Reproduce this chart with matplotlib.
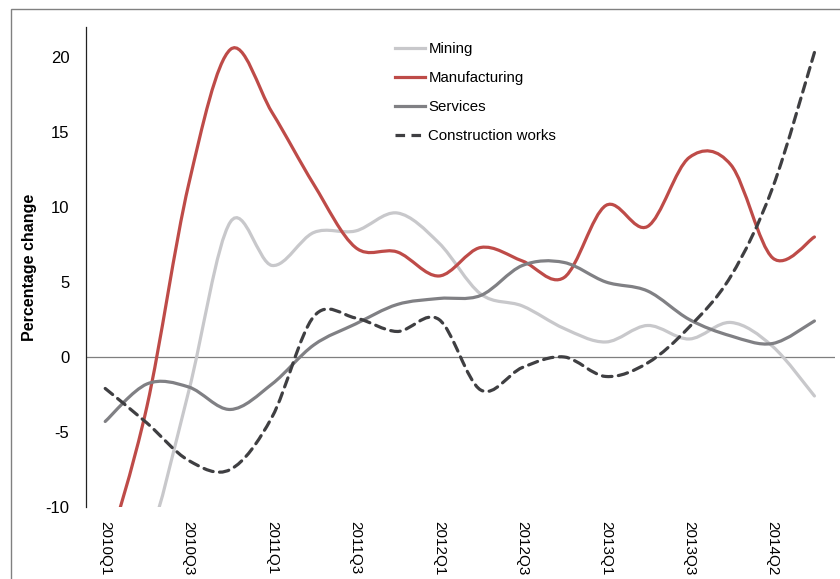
import numpy as np
import matplotlib.pyplot as plt
from matplotlib.path import Path
from matplotlib.patches import PathPatch, Rectangle
from matplotlib.lines import Line2D

plt.rcParams['font.family'] = ['Liberation Sans', 'DejaVu Sans']
plt.rcParams['axes.unicode_minus'] = False

# -------------------- data --------------------
quarters = list(range(18))
tick_pos = [0, 2, 4, 6, 8, 10, 12, 14, 16]
tick_labels = ["2010Q1", "2010Q3", "2011Q1", "2011Q3", "2012Q1",
               "2012Q3", "2013Q1", "2013Q3", "2014Q2"]

mining = [-16, -12.5, -2.3, 9.0, 6.1, 8.3, 8.4, 9.6, 7.6, 4.2,
          3.4, 1.9, 1.0, 2.1, 1.2, 2.3, 0.7, -2.6]
manufacturing = [-13.5, -3.3, 11.5, 20.5, 16.3, 11.5, 7.3, 7.0, 5.4, 7.3,
                 6.4, 5.3, 10.1, 8.7, 13.3, 12.8, 6.6, 8.0]
services = [-4.3, -1.8, -2.0, -3.5, -1.8, 0.8, 2.2, 3.5, 3.9, 4.1,
            6.1, 6.3, 5.0, 4.4, 2.5, 1.4, 0.9, 2.4]
construction = [-2.1, -4.4, -6.9, -7.5, -4.0, 2.7, 2.6, 1.7, 2.5, -2.2,
                -0.7, 0.0, -1.3, -0.4, 2.0, 5.4, 11.3, 20.3]

series = [
    ("Mining", mining, "#c8c8cb", "-"),
    ("Manufacturing", manufacturing, "#be4b48", "-"),
    ("Services", services, "#808084", "-"),
    ("Construction works", construction, "#3f3f42", (0, (3, 2))),
]


# smooth line like a spreadsheet chart: cubic bezier through the points
def smooth_path(x, y):
    p = np.column_stack([x, y]).astype(float)
    verts = [p[0]]
    codes = [Path.MOVETO]
    n = len(p)
    for i in range(n - 1):
        p0 = p[i - 1] if i > 0 else p[i]
        p3 = p[i + 2] if i + 2 < n else p[i + 1]
        c1 = p[i] + (p[i + 1] - p0) / 6.0
        c2 = p[i + 1] - (p3 - p[i]) / 6.0
        verts += [c1, c2, p[i + 1]]
        codes += [Path.CURVE4] * 3
    return Path(verts, codes)


fig = plt.figure(figsize=(8.4, 5.79), dpi=100)
ax = fig.add_axes([0.1024, 0.1244, 0.892, 0.829])

ax.axhline(0, color="#7f7f7f", lw=0.9, zorder=1)

handles = []
for name, vals, col, ls in series:
    patch = PathPatch(smooth_path(quarters, vals), fill=False, edgecolor=col,
                      lw=2.3, linestyle=ls, capstyle="round", zorder=3)
    ax.add_patch(patch)
    handles.append(Line2D([], [], color=col, lw=2.3, linestyle=ls, label=name))

ax.set_xlim(-0.46, 17.5)
ax.set_ylim(-10, 22)
ax.set_yticks([-10, -5, 0, 5, 10, 15, 20])
ax.set_xticks(tick_pos)
ax.set_xticklabels(tick_labels, rotation=-90, fontsize=11)
ax.tick_params(axis="y", labelsize=12, length=0, pad=12)
ax.tick_params(axis="x", length=0, pad=10)

for s in ["top", "right", "bottom"]:
    ax.spines[s].set_visible(False)
ax.spines["left"].set_color("#222222")
ax.spines["left"].set_linewidth(0.9)

ax.set_ylabel("Percentage change", fontsize=11.5, fontweight="bold", labelpad=6)

ax.legend(handles=handles, loc="upper left", bbox_to_anchor=(0.399, 0.99),
          frameon=False, fontsize=10.8, handlelength=2.0, handletextpad=0.2,
          labelspacing=1.0, borderaxespad=0.3)

# outer frame
fig.patches.append(Rectangle((11 / 840, -0.1), 1.2, 1.1 - 9 / 579,
                             transform=fig.transFigure, fill=False,
                             edgecolor="#808080", lw=1.0))

fig.savefig("out.png", dpi=100)
